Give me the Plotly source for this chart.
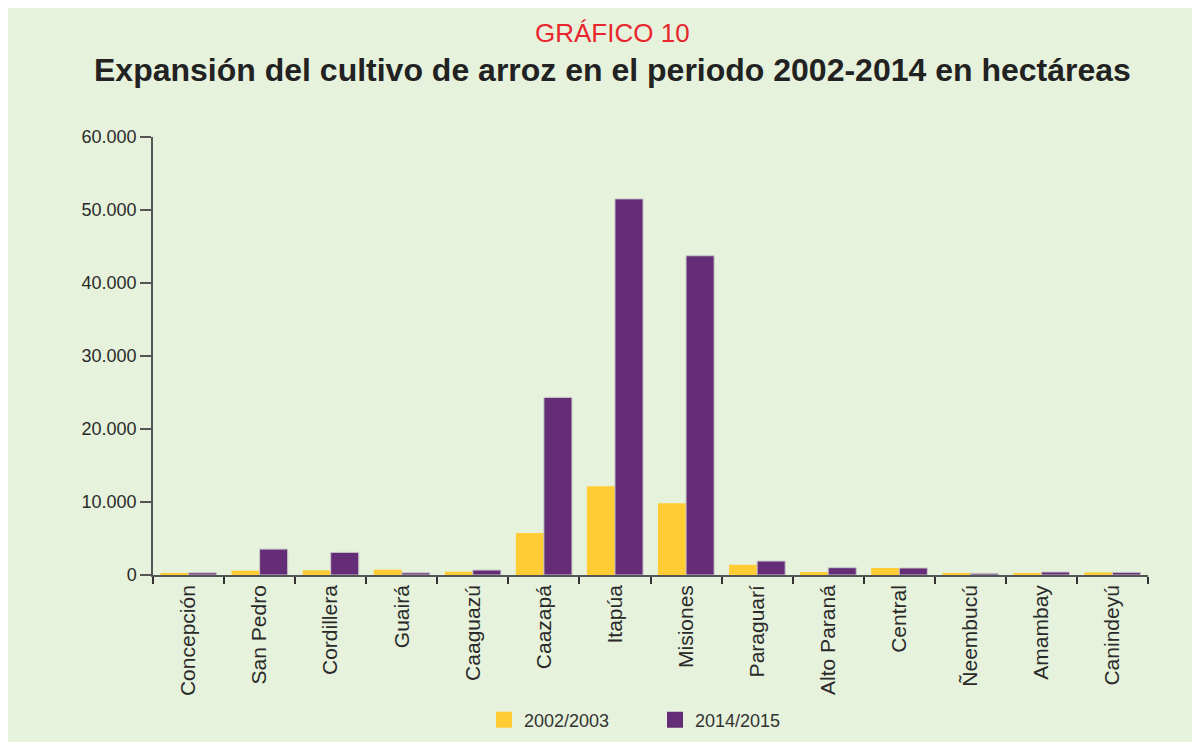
import plotly.graph_objects as go

categories = ["Concepción", "San Pedro", "Cordillera", "Guairá", "Caaguazú", "Caazapá",
              "Itapúa", "Misiones", "Paraguarí", "Alto Paraná", "Central", "Ñeembucú",
              "Amambay", "Canindeyú"]
series_2002 = [250, 600, 650, 730, 450, 5740, 12160, 9840, 1400, 410, 960, 270, 270, 360]
series_2014 = [300, 3550, 3100, 300, 680, 24330, 51520, 43730, 1910, 1000, 960, 230, 410, 360]
series_names = ["2002/2003", "2014/2015"]
y_ticks = [0, 10000, 20000, 30000, 40000, 50000, 60000]

W, H = 1200, 742
OFF = 8  # page offset of the figure (body margin)
L, R, T, B = 153 - OFF, 60, 137 - OFF, 172
pw, ph = W - L - R, H - T - B

def px(x):
    return (x - OFF - L) / pw

def py(y):
    return (H - B - (y - OFF)) / ph

FONT = "Liberation Sans, Arial, sans-serif"
BG = "#E6F2DC"
YEL = "#FFCC33"
PUR = "#652D77"

fig = go.Figure()
fig.add_trace(go.Bar(name=series_names[0], x=categories, y=series_2002, showlegend=False,
                     marker=dict(color=YEL, line=dict(width=0))))
fig.add_trace(go.Bar(name=series_names[1], x=categories, y=series_2014, showlegend=False,
                     marker=dict(color=PUR, line=dict(width=1, color="#C8C8C8"))))
# legend entries with large square swatches
for name, col in zip(series_names, [YEL, PUR]):
    fig.add_trace(go.Scatter(name=name, x=[None], y=[None], mode="markers",
                             marker=dict(symbol="square", size=19, color=col,
                                         line=dict(width=0)),
                             showlegend=True))

fig.update_layout(
    width=W, height=H,
    margin=dict(l=L, r=R, t=T, b=B, pad=0),
    paper_bgcolor=BG,
    plot_bgcolor="rgba(0,0,0,0)",
    separators=",.",
    barmode="group",
    bargap=0.21,
    bargroupgap=0,
    font=dict(family=FONT, size=18, color="#333333"),
    showlegend=True,
    legend=dict(orientation="h", x=px(484), xanchor="left", y=py(724), yanchor="middle",
                font=dict(family=FONT, size=18, color="#333333"),
                itemwidth=30, tracegroupgap=0, bgcolor="rgba(0,0,0,0)",
                entrywidth=126),
    xaxis=dict(showline=True, linecolor="#555555", linewidth=1.5,
               ticks="outside", tickson="boundaries", ticklen=7, tickcolor="#333333",
               tickwidth=1.5, tickangle=-90, showgrid=False,
               tickfont=dict(family=FONT, size=21, color="#2a2a2a")),
    yaxis=dict(range=[0, 60000], tickvals=y_ticks, tickformat=",d",
               showline=True, linecolor="#555555", linewidth=1.5,
               ticks="outside", ticklen=11, tickcolor="#555555", tickwidth=1.5,
               showgrid=False, zeroline=False,
               tickfont=dict(family=FONT, size=18, color="#2a2a2a")),
    annotations=[
        dict(text="GRÁFICO 10", xref="paper", yref="paper", x=px(612), y=py(32),
             xanchor="center", yanchor="middle", showarrow=False,
             font=dict(family=FONT, size=26, color="#E8262E")),
        dict(text="<b>Expansión del cultivo de arroz en el periodo 2002-2014 en hectáreas</b>",
             xref="paper", yref="paper", x=px(612), y=py(70),
             xanchor="center", yanchor="middle", showarrow=False,
             font=dict(family=FONT, size=32, color="#222222")),
    ],
)

fig.write_html("out.html")
